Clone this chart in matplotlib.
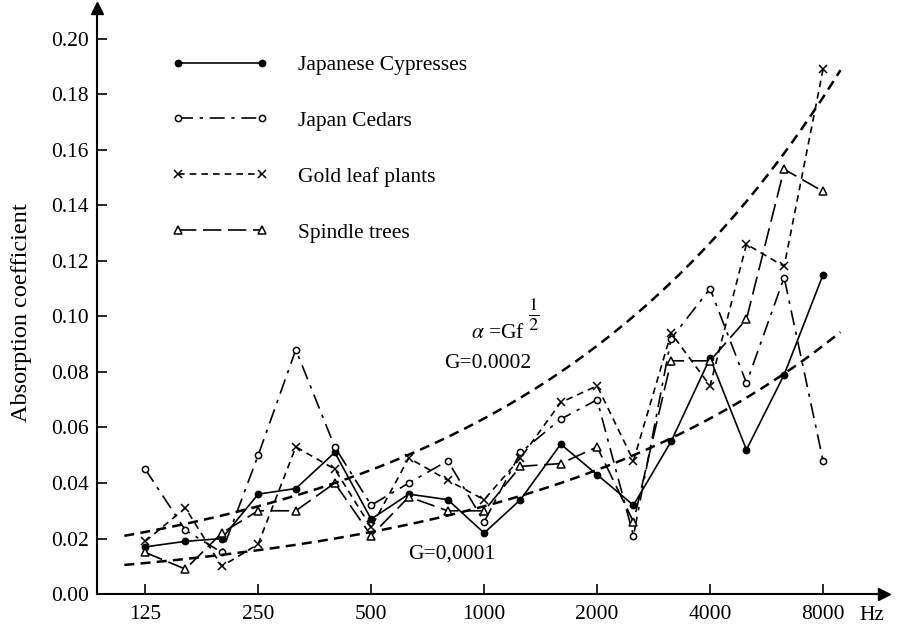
import matplotlib
matplotlib.use("Agg")
import matplotlib.pyplot as plt
import numpy as np

plt.rcParams["font.family"] = ["Liberation Serif", "DejaVu Serif"]
plt.rcParams["mathtext.fontset"] = "stix"

# one-third octave band centres (Hz)
freqs = [125, 160, 200, 250, 315, 400, 500, 630, 800, 1000,
         1250, 1600, 2000, 2500, 3150, 4000, 5000, 6300, 8000]

cypresses = [0.017, 0.019, 0.020, 0.036, 0.038, 0.051, 0.027, 0.036, 0.034, 0.022,
             0.034, 0.054, 0.043, 0.032, 0.055, 0.085, 0.052, 0.079, 0.115]
cedars = [0.045, 0.023, 0.015, 0.050, 0.088, 0.053, 0.032, 0.040, 0.048, 0.026,
          0.051, 0.063, 0.070, 0.021, 0.092, 0.110, 0.076, 0.114, 0.048]
gold_leaf = [0.019, 0.031, 0.010, 0.018, 0.053, 0.045, 0.024, 0.049, 0.041, 0.034,
             0.049, 0.069, 0.075, 0.048, 0.094, 0.075, 0.126, 0.118, 0.189]
spindle = [0.015, 0.009, 0.022, 0.030, 0.030, 0.040, 0.021, 0.035, 0.030, 0.030,
           0.046, 0.047, 0.053, 0.026, 0.084, 0.084, 0.099, 0.153, 0.145]

octave_ticks = [125, 250, 500, 1000, 2000, 4000, 8000]
y_ticks = [0.00, 0.02, 0.04, 0.06, 0.08, 0.10, 0.12, 0.14, 0.16, 0.18, 0.20]

# reference curves alpha = G f^(1/2) (drawn scaled as in the figure)
g_values = [0.0002, 0.0001]
curve_scale = 10.0

fig = plt.figure(figsize=(8.98, 6.28), dpi=100)
ax = fig.add_axes([0.108, 0.054, 0.876, 0.933])
ax.set_xscale("log", base=2)
ax.set_xlim(93, 11600)
ax.set_ylim(0, 0.211)

fs = 15.5

series = [
    (cypresses, "Japanese Cypresses", "-", "o", "k"),
    (cedars, "Japan Cedars", (0, (9, 4, 2, 4)), "o", "white"),
    (gold_leaf, "Gold leaf plants", (0, (4, 3)), "x", "k"),
    (spindle, "Spindle trees", (0, (11, 4)), "^", "white"),
]
handles = []
for vals, label, ls, mk, mfc in series:
    ms = 4.5 if mk == "o" else 6
    h, = ax.plot(freqs, vals, color="k", lw=1.2, ls=ls, marker=mk, ms=ms,
                 mfc=mfc, mec="k", mew=1.1, label=label)
    handles.append(h)

fc = np.geomspace(110, 8900, 200)
for g in g_values:
    ax.plot(fc, curve_scale * g * np.sqrt(fc), color="k", lw=1.8,
            ls=(0, (4, 2.5)))

t = ax.text(1090, 0.094, r"$\alpha$ =Gf", fontsize=fs, ha="center", va="center")
ax.annotate(r"$\frac{1}{2}$", xy=(1.0, 1.45), xycoords=t, xytext=(2, 0),
            textcoords="offset points", fontsize=19, ha="left", va="center")
ax.text(1020, 0.083, "G=0.0002", fontsize=fs, ha="center", va="center")
ax.text(820, 0.0145, "G=0,0001", fontsize=fs, ha="center", va="center")

ax.legend(handles=handles, loc="upper left", bbox_to_anchor=(0.07, 0.953),
          frameon=False, fontsize=fs, numpoints=2, handlelength=4.5,
          handletextpad=1.4, labelspacing=1.66)

ax.set_xticks(octave_ticks)
ax.set_xticklabels([str(f) for f in octave_ticks])
ax.xaxis.set_minor_locator(matplotlib.ticker.NullLocator())
ax.set_yticks(y_ticks)
ax.set_yticklabels(["%.2f" % v for v in y_ticks])
ax.tick_params(axis="both", direction="in", length=7, width=1.2,
               labelsize=fs, pad=6)
ax.tick_params(axis="x", pad=8)

for side in ["top", "right"]:
    ax.spines[side].set_visible(False)
for side in ["left", "bottom"]:
    ax.spines[side].set_linewidth(1.5)

ax.plot(1, 0, ">k", ms=8, transform=ax.transAxes, clip_on=False)
ax.plot(0, 1, "^k", ms=8, transform=ax.transAxes, clip_on=False)
ax.text(0.985, -0.036, "Hz", fontsize=fs, transform=ax.transAxes,
        ha="center", va="center")

ax.set_ylabel("Absorption coefficient", fontsize=17.5, labelpad=6)
ax.yaxis.set_label_coords(-0.083, 0.48)

fig.savefig("out.png", dpi=100)
